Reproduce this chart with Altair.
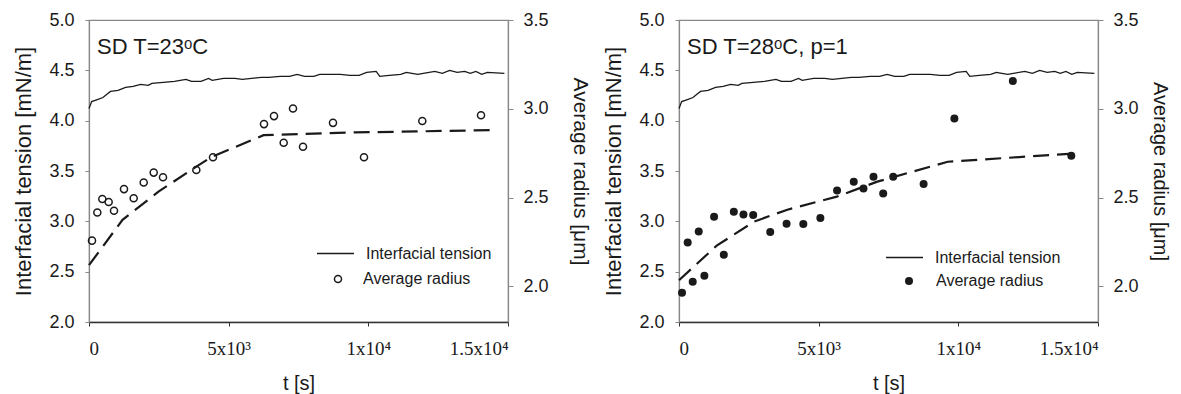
import altair as alt
import pandas as pd

# ---------------- data ----------------
# Interfacial tension [mN/m] (left axis), same record in both panels
it_t = [0, 95, 300, 500, 630, 770, 1040, 1310, 1580, 1850, 2120, 2250, 2660, 3060,
        3470, 3670, 4010, 4280, 4410, 4820, 5220, 5490, 6170, 6440, 6840, 7180, 7450,
        7720, 8050, 8260, 8600, 9000, 9340, 9670, 9940, 10280, 10410, 10750, 11160,
        11360, 11560, 11770, 11970, 12380, 12650, 12910, 13180, 13450, 13650, 13850,
        14060, 14260, 14870]
it_v = [4.12, 4.19, 4.21, 4.23, 4.26, 4.29, 4.30, 4.33, 4.34, 4.36, 4.35, 4.37, 4.38,
        4.39, 4.41, 4.39, 4.39, 4.42, 4.40, 4.42, 4.42, 4.41, 4.43, 4.43, 4.44, 4.44,
        4.46, 4.44, 4.44, 4.46, 4.46, 4.46, 4.45, 4.45, 4.48, 4.49, 4.44, 4.45, 4.46,
        4.48, 4.47, 4.46, 4.47, 4.49, 4.47, 4.50, 4.48, 4.49, 4.47, 4.49, 4.46, 4.48,
        4.47]

# Panel 1: SD T=23C  -- average radius [um] (right axis)
p1_t = [107, 298, 477, 704, 895, 1253, 1600, 1958, 2316, 2649, 3842, 4439, 6265,
        6623, 6970, 7303, 7661, 8735, 9845, 11932, 14034]
p1_r = [2.258, 2.416, 2.492, 2.475, 2.426, 2.548, 2.497, 2.585, 2.641, 2.615, 2.656,
        2.727, 2.914, 2.959, 2.809, 3.002, 2.787, 2.921, 2.727, 2.931, 2.964]
f1_t = [0, 1200, 2500, 3800, 4400, 6250, 9500, 14350]
f1_r = [2.12, 2.375, 2.535, 2.67, 2.73, 2.852, 2.867, 2.88]

# Panel 2: SD T=28C, p=1
p2_t = [108, 311, 491, 706, 908, 1256, 1604, 1963, 2308, 2656, 3266, 3851, 4450,
        5061, 5659, 6256, 6604, 6963, 7310, 7668, 8757, 9859, 11951, 14044]
p2_r = [1.964, 2.248, 2.026, 2.310, 2.061, 2.392, 2.179, 2.420, 2.405, 2.402, 2.307,
        2.353, 2.351, 2.385, 2.540, 2.589, 2.551, 2.618, 2.523, 2.618, 2.577, 2.946,
        3.157, 2.736]
f2_t = [0, 1350, 2700, 3880, 5650, 7100, 9620, 14280]
f2_r = [2.035, 2.23, 2.366, 2.432, 2.506, 2.59, 2.702, 2.750]

notes = ["SD T=23ᵒC", "SD T=28ᵒC, p=1"]
x_ticks = [0, 5000, 10000, 15000]
left_ticks = [2.0, 2.5, 3.0, 3.5, 4.0, 4.5, 5.0]
right_ticks = [2.0, 2.5, 3.0, 3.5]

SANS = "Liberation Sans"
SERIF = "Liberation Serif"
INK = "#1a1a1a"

W, H = 419, 302


def panel(pt_t, pt_r, fit_t, fit_r, filled, note, leg_line_xy, leg_pt_xy, pt_offset,
          r_title_pad, r_title_size):
    x = alt.X(
        "t:Q",
        scale=alt.Scale(domain=[0, 15000], nice=False, zero=False),
        axis=alt.Axis(
            values=x_ticks,
            labelExpr="datum.value == 0 ? '0' : datum.value == 5000 ? '5x10³' : "
                      "datum.value == 10000 ? '1x10⁴' : '1.5x10⁴'",
            labelFont=SERIF, labelFontSize=19, labelColor=INK, labelPadding=13,
            tickSize=4, tickColor="#333", domainColor="#333", domainWidth=1.3,
            title="t [s]", titleFont=SANS, titleFontSize=20, titleFontWeight="normal",
            titleColor=INK, titlePadding=15, grid=False,
        ),
    )
    it_df = pd.DataFrame({"t": it_t, "v": it_v, "s": "Interfacial tension"})
    line = alt.Chart(it_df).mark_line(strokeWidth=1.3).encode(
        x=x,
        y=alt.Y(
            "v:Q",
            scale=alt.Scale(domain=[2, 5], nice=False, zero=False),
            axis=alt.Axis(
                values=left_ticks, format=".1f", orient="left",
                labelFont=SANS, labelFontSize=18, labelColor=INK, labelPadding=11,
                tickSize=4, tickColor="#888", domainColor="#888", domainWidth=1.2,
                title="Interfacial tension [mN/m]", titleFont=SANS, titleFontSize=22,
                titleFontWeight="normal", titleColor=INK, titlePadding=13, grid=False,
            ),
        ),
        color=alt.Color(
            "s:N",
            scale=alt.Scale(domain=["Interfacial tension"], range=[INK]),
            legend=alt.Legend(
                orient="none", legendX=leg_line_xy[0], legendY=leg_line_xy[1], title=None,
                symbolType="stroke", symbolSize=1369, symbolStrokeWidth=1.4,
                symbolStrokeColor=INK, labelFont=SANS, labelFontSize=16,
                labelColor=INK, labelOffset=11, padding=0,
            ),
        ),
    )
    note_layer = alt.Chart(pd.DataFrame({"note": [note]})).mark_text(
        align="left", baseline="alphabetic", font=SANS, fontSize=22, color=INK
    ).encode(text="note:N", x=alt.value(8), y=alt.value(34))

    rscale = alt.Scale(domain=[1.8, 3.5], nice=False, zero=False)
    raxis = alt.Axis(
        values=right_ticks, format=".1f", orient="right",
        labelFont=SANS, labelFontSize=18, labelColor=INK, labelPadding=10,
        tickSize=5, tickColor="#888", domainColor="#888", domainWidth=1.2,
        title="Average radius [μm]", titleFont=SANS, titleFontSize=r_title_size,
        titleFontWeight="normal", titleColor=INK, titlePadding=r_title_pad, grid=False,
    )
    fit_df = pd.DataFrame({"t": fit_t, "r": fit_r})
    fit = alt.Chart(fit_df).mark_line(
        strokeDash=[16, 8], strokeWidth=2.2, color=INK
    ).encode(x=x, y=alt.Y("r:Q", scale=rscale, axis=raxis))

    pt_df = pd.DataFrame({"t": pt_t, "r": pt_r, "s": "Average radius"})
    pts = alt.Chart(pt_df).mark_point(
        filled=filled, size=64 if filled else 50, strokeWidth=1.5, color=INK, opacity=1
    ).encode(
        x=x,
        y=alt.Y("r:Q", scale=rscale, axis=raxis),
        shape=alt.Shape(
            "s:N",
            scale=alt.Scale(domain=["Average radius"], range=["circle"]),
            legend=alt.Legend(
                orient="none", legendX=leg_pt_xy[0], legendY=leg_pt_xy[1], title=None,
                symbolSize=64 if filled else 50, symbolStrokeWidth=1.5,
                symbolStrokeColor=INK, symbolFillColor=INK if filled else "transparent",
                labelFont=SANS, labelFontSize=16, labelColor=INK,
                labelOffset=pt_offset, padding=0,
            ),
        ),
    )
    return (
        alt.layer(alt.layer(line, note_layer), alt.layer(fit, pts))
        .resolve_scale(y="independent")
        .properties(width=W, height=H)
    )


p1 = panel(p1_t, p1_r, f1_t, f1_r, False, notes[0], (227, 214), (241, 251), 17, 21, 21)
p2 = panel(p2_t, p2_r, f2_t, f2_r, True, notes[1], (206, 218), (222, 253), 19, 11, 20)

chart = (
    alt.hconcat(p1, p2, spacing=11)
    .resolve_scale(color="independent", shape="independent")
    .resolve_legend(color="independent", shape="independent")
    .properties(padding={"left": 12, "top": 10, "right": 4, "bottom": 0})
    .configure_view(stroke="#888", strokeWidth=1.2)
    .configure_axis(grid=False)
)

chart.save("out.html", embed_options={"renderer": "svg", "actions": False})
